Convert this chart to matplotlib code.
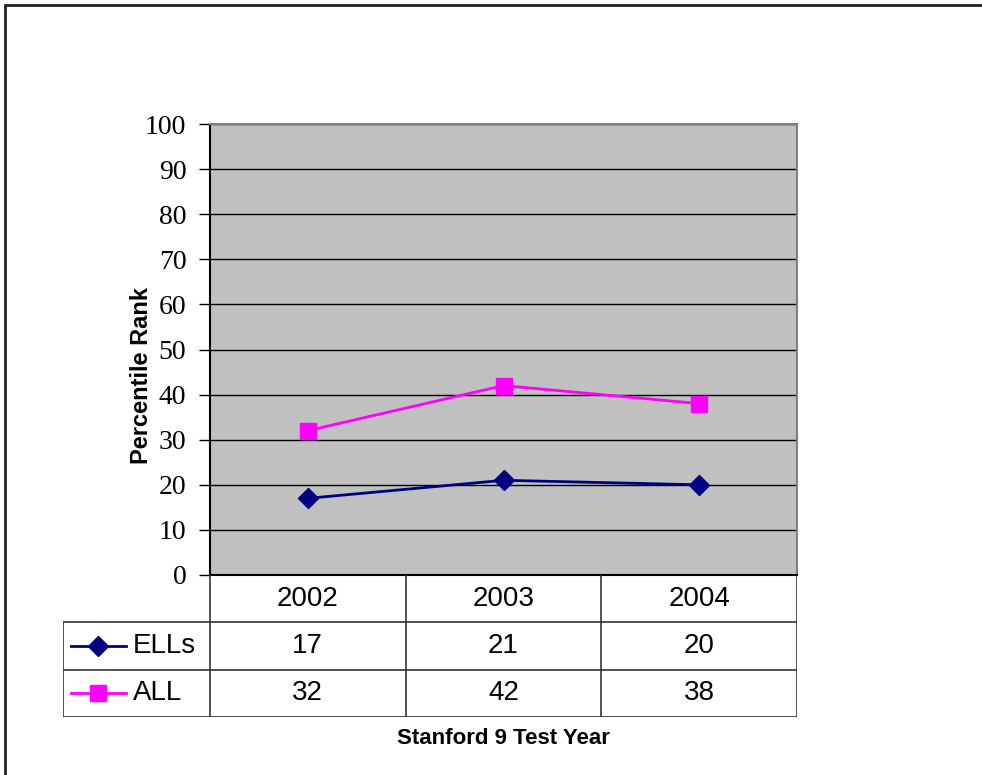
import numpy as np
import matplotlib.pyplot as plt
from matplotlib.patches import Rectangle

years = ['2002', '2003', '2004']
ells = [17, 21, 20]
all_students = [32, 42, 38]
series_names = ['ELLs', 'ALL']
series_colors = ['#000080', '#FF00FF']
series_markers = ['D', 's']
yticks = list(range(0, 101, 10))

W, H = 982, 775
fig = plt.figure(figsize=(W / 100, H / 100), dpi=100)

# outer chart border (cropped on right/bottom)
fig.patches.append(Rectangle((5 / W, -0.1), 1.2, 1 - 5 / H + 0.1, transform=fig.transFigure,
                             fill=False, edgecolor='#222222', linewidth=2))

# main plot area
ax = fig.add_axes([210 / W, (H - 575) / H, 587 / W, 451 / H])
ax.set_facecolor('#C0C0C0')
x = np.arange(len(years))
ax.set_xlim(-0.5, len(years) - 0.5)
ax.set_ylim(0, 100)
ax.set_yticks(yticks)
ax.set_yticklabels([str(t) for t in yticks], fontfamily='Liberation Serif', fontsize=20)
ax.set_xticks([])
ax.yaxis.grid(True, color='black', linewidth=1)
ax.set_axisbelow(True)
ax.tick_params(axis='y', direction='out', length=8, width=1, color='black', pad=9)
for s in ['top', 'right']:
    ax.spines[s].set_color('#808080')
    ax.spines[s].set_linewidth(1.5)
ax.spines['left'].set_color('black')
ax.spines['left'].set_linewidth(1.5)
ax.spines['bottom'].set_color('black')
ax.spines['bottom'].set_linewidth(1.5)

ax.plot(x, ells, color=series_colors[0], marker=series_markers[0], markersize=10, linewidth=2)
ax.plot(x, all_students, color=series_colors[1], marker=series_markers[1], markersize=12, linewidth=2)

fig.text(141 / W, 1 - 375 / H, 'Percentile Rank', rotation=90, ha='center', va='center',
         fontfamily='Liberation Sans', fontweight='bold', fontsize=17)

# data table below the plot
legw = 147 / 196
tab = fig.add_axes([63 / W, (H - 717) / H, (797 - 63) / W, (717 - 575) / H])
tab.set_xlim(-0.5 - legw, len(years) - 0.5)
tab.set_ylim(3, 0)
tab.axis('off')
lc = '#333333'
for i in range(len(years) + 1):
    tab.plot([i - 0.5, i - 0.5], [0, 3], color=lc, linewidth=1.2)
tab.plot([-0.5 - legw] * 2, [1, 3], color=lc, linewidth=1.2)
for r in [1, 2, 3]:
    tab.plot([-0.5 - legw, len(years) - 0.5], [r, r], color=lc, linewidth=1.2)

for i, yr in enumerate(years):
    tab.text(i, 0.5, yr, ha='center', va='center', fontfamily='Liberation Sans', fontsize=20)
for r, vals in enumerate([ells, all_students]):
    for i, v in enumerate(vals):
        tab.text(i, r + 1.5, str(v), ha='center', va='center', fontfamily='Liberation Sans', fontsize=20)
    x0 = -0.5 - legw
    tab.plot([x0 + 8 / 196, x0 + 63 / 196], [r + 1.5, r + 1.5], color=series_colors[r], linewidth=2)
    tab.plot([x0 + 35 / 196], [r + 1.5], color=series_colors[r], marker=series_markers[r],
             markersize=10 if r == 0 else 12, linestyle='none')
    tab.text(x0 + 70 / 196, r + 1.5, series_names[r], ha='left', va='center',
             fontfamily='Liberation Sans', fontsize=20)

fig.text(503 / W, 1 - 738 / H, 'Stanford 9 Test Year', ha='center', va='center',
         fontfamily='Liberation Sans', fontweight='bold', fontsize=16)

fig.savefig('out.png', dpi=100)
